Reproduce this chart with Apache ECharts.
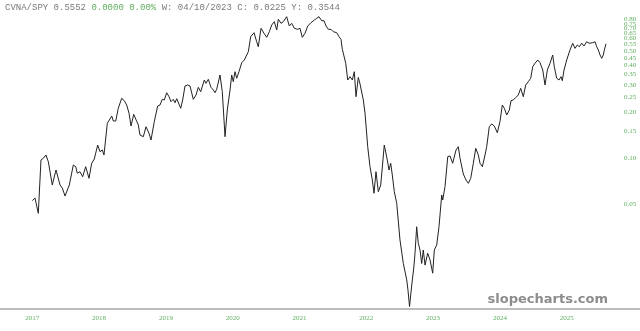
<!DOCTYPE html>
<html><head><meta charset="utf-8">
<script src="https://cdn.jsdelivr.net/npm/echarts@6/dist/echarts.min.js"></script>
<style>html,body{margin:0;padding:0;background:#fff}#c{width:640px;height:331px}</style>
</head><body><div id="c"></div>
<script>
const years = [
2017.000,2017.040,2017.090,2017.130,2017.165,2017.205,2017.240,2017.299,2017.355,2017.415,2017.449,2017.490,2017.554,2017.614,2017.650,2017.674,2017.714,2017.754,2017.799,2017.849,2017.889,2017.928,2017.954,2017.979,2018.013,2018.048,2018.073,2018.123,2018.148,2018.189,2018.213,2018.249,2018.287,2018.338,2018.377,2018.413,2018.448,2018.478,2018.518,
2018.537,2018.587,2018.612,2018.662,2018.702,2018.728,2018.747,2018.777,2018.826,2018.877,2018.912,2018.946,2018.976,2019.012,2019.046,2019.076,2019.111,2019.136,2019.162,2019.186,2019.222,2019.251,2019.286,2019.326,2019.361,2019.410,2019.451,2019.485,2019.521,2019.575,2019.600,2019.635,2019.675,2019.710,2019.735,2019.760,2019.810,2019.844,2019.885,2019.919,2019.960,2019.985,2020.009,2020.034,2020.060,2020.094,2020.135,2020.174,
2020.184,2020.234,2020.269,2020.319,2020.359,2020.383,2020.424,2020.469,2020.509,2020.548,2020.584,2020.623,2020.659,2020.683,2020.723,2020.757,2020.808,2020.847,2020.883,2020.922,2020.973,2021.007,2021.042,2021.082,2021.123,2021.172,2021.222,2021.257,2021.292,2021.332,2021.367,2021.397,2021.431,2021.472,2021.506,2021.557,2021.591,2021.621,2021.641,2021.666,2021.692,2021.722,2021.756,2021.790,2021.820,2021.846,2021.880,2021.906,
2021.955,2021.981,2022.021,2022.055,2022.090,2022.115,2022.145,2022.180,2022.216,2022.240,2022.269,2022.290,2022.314,2022.340,2022.365,2022.389,2022.419,2022.455,2022.479,2022.504,2022.530,2022.554,2022.579,2022.605,2022.624,2022.647,2022.669,2022.689,2022.710,2022.729,2022.754,2022.778,2022.804,2022.829,2022.853,2022.879,2022.919,2022.954,2022.994,2023.018,2023.054,2023.088,2023.129,2023.144,2023.178,2023.219,2023.253,2023.293,2023.343,2023.377,2023.403,2023.452,
2023.492,2023.527,2023.563,2023.602,2023.638,2023.677,2023.702,2023.737,2023.777,2023.802,2023.841,2023.877,2023.916,2023.961,2024.001,2024.036,2024.066,2024.102,2024.141,2024.166,2024.201,2024.241,2024.275,2024.311,2024.350,2024.386,2024.425,2024.461,2024.491,2024.525,2024.566,2024.600,2024.641,2024.675,2024.710,2024.750,2024.790,2024.814,2024.850,2024.885,2024.915,2024.934,2024.960,2025.000,2025.049,2025.090,2025.124,2025.159,2025.189,2025.225,2025.259,2025.299,2025.334,2025.389,2025.424,2025.449,2025.473,2025.499,2025.524,2025.548,2025.563,2025.588
];
const ratio = [
0.0528,0.0550,0.0437,0.0971,0.0997,0.1047,0.0947,0.0668,0.0836,0.0668,0.0638,0.0566,0.0668,0.0901,0.0879,0.0796,0.0815,0.0756,0.0879,0.0738,0.0925,0.0986,0.0986,0.1216,0.1100,0.1129,0.1047,0.1684,0.1642,0.1879,0.1743,0.1743,0.2109,0.2450,0.2363,0.2216,0.1957,0.1617,0.1927,
0.1907,0.1642,0.1413,0.1378,0.1600,0.1642,0.1450,0.1311,0.1725,0.2183,0.2216,0.2414,0.2388,0.2665,0.2510,0.2328,0.2414,0.2294,0.2435,0.2388,0.2109,0.2388,0.2946,0.2991,0.2946,0.2414,0.2574,0.2889,0.2705,0.3224,0.3068,0.3258,0.2889,0.2775,0.2665,0.2804,0.3474,0.2705,0.1378,0.2056,0.2775,0.3474,0.3143,0.3650,0.3307,0.3650,0.4178,0.4351,
0.4463,0.4927,0.617,0.655,0.572,0.531,0.700,0.649,0.611,0.665,0.735,0.773,0.682,0.801,0.754,0.773,0.833,0.724,0.754,0.700,0.689,0.700,0.611,0.649,0.724,0.761,0.792,0.813,0.833,0.784,0.784,0.724,0.689,0.689,0.665,0.655,0.617,0.593,0.511,0.518,0.414,0.3224,0.3387,0.3224,0.3650,0.2510,0.3347,0.3036,
0.2388,0.1957,0.1186,0.0879,0.0720,0.0590,0.0815,0.0604,0.0668,0.0685,0.1216,0.1248,0.0971,0.0836,0.0925,0.0776,0.0604,0.0508,0.0389,0.0293,0.0300,0.0206,0.0204,0.0161,0.0138,0.0108,0.0134,0.0161,0.0192,0.0240,0.0357,0.0279,0.0252,0.0206,0.0252,0.0201,0.0240,0.0217,0.0178,0.0252,0.0272,0.0357,0.0575,0.0533,0.0651,0.1021,0.1032,0.0925,0.1129,0.1186,0.0997,0.0788,
0.0720,0.0685,0.0738,0.0925,0.1158,0.1047,0.0925,0.0879,0.1047,0.1186,0.1600,0.1667,0.1617,0.1463,0.1725,0.2216,0.2109,0.1907,0.2056,0.2363,0.2388,0.2487,0.2574,0.2846,0.2510,0.2991,0.3143,0.3307,0.3935,0.414,0.4351,0.4178,0.3745,0.2991,0.3745,0.414,0.469,0.3935,0.3307,0.3224,0.3387,0.319,0.3745,0.4351,0.5055,0.559,0.518,0.545,0.531,0.559,0.537,0.572,0.559,0.564,0.572,0.531,0.5055,0.469,0.4463,0.469,0.5055,0.5552
];
const yearTicks = [2017,2018,2019,2020,2021,2022,2023,2024,2025];
const valueTicks = [0.05,0.10,0.15,0.20,0.25,0.30,0.35,0.40,0.45,0.50,0.55,0.60,0.65,0.70,0.75,0.80,0.85];
const headerName = 'CVNA/SPY 0.5552';
const headerChange = '0.0000 0.00%';
const headerRest = 'W: 04/10/2023 C: 0.0225 Y: 0.3544';

const GREEN = '#5fae5f';
const chart = echarts.init(document.getElementById('c'), null, {renderer:'canvas'});
chart.setOption({
  animation: false,
  backgroundColor: '#fff',
  title: {
    left: 5, top: 3, padding: 0,
    text: '{a|' + headerName + '} {g|' + headerChange + '} {a|' + headerRest + '}',
    textStyle: {
      fontWeight: 'normal', fontFamily: 'Liberation Mono', fontSize: 9,
      rich: {
        a: {fontFamily: 'Liberation Mono', fontSize: 9, fontWeight: 'normal', color: '#7a7a7a'},
        g: {fontFamily: 'Liberation Mono', fontSize: 9, fontWeight: 'normal', color: GREEN}
      }
    }
  },
  grid: {left: 0, right: 0, top: 0, bottom: 22},
  xAxis: {
    type: 'value', min: 2016.5165, max: 2026.097,
    axisLine: {show: true, lineStyle: {color: '#bdbdbd', width: 2}},
    axisTick: {show: false}, splitLine: {show: false},
    axisLabel: {customValues: yearTicks, formatter: v => String(Math.round(v)),
      fontFamily: 'Liberation Serif', fontSize: 7, color: GREEN, margin: 6}
  },
  yAxis: {
    type: 'log', logBase: 10, min: 0.010405, max: 1.0696, position: 'right', offset: -17,
    axisLine: {show: false}, axisTick: {show: false}, splitLine: {show: false},
    axisLabel: {customValues: valueTicks, formatter: v => Number(v).toFixed(2),
      fontFamily: 'Liberation Serif', fontSize: 7, color: GREEN, margin: 1}
  },
  graphic: [{
    type: 'text', right: 32, top: 293,
    style: {text: 'slopecharts.com', font: 'bold 13px "DejaVu Sans"', fill: '#8c8c8c'}
  }],
  series: [{
    type: 'line', showSymbol: false, symbol: 'none',
    data: years.map((t, i) => [t, ratio[i]]),
    lineStyle: {color: '#222', width: 1}
  }]
});
</script></body></html>
